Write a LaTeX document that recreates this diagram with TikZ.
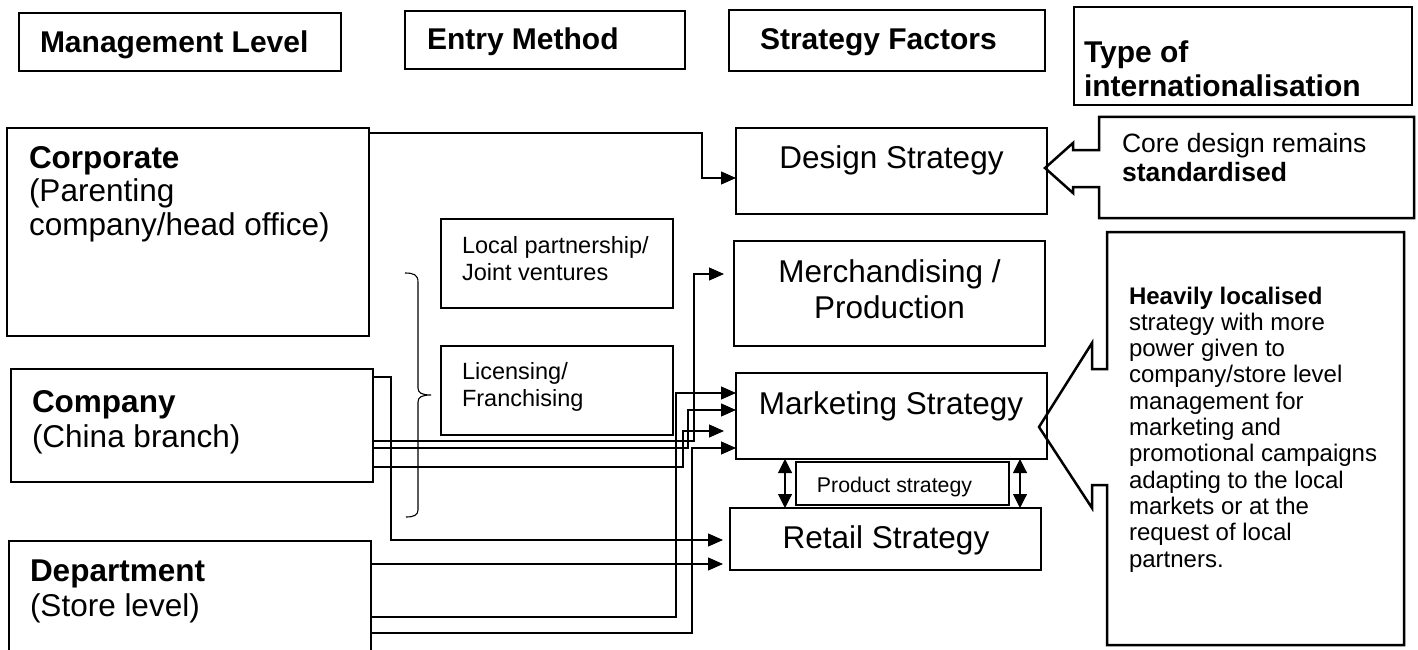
\documentclass[tikz,border=0pt]{standalone}
\usepackage{fontspec}
\setmainfont{Liberation Sans}
\usetikzlibrary{arrows.meta}
% stacked lines whose baseline is the baseline of the first line
\newcommand\stackL[1]{\begin{tabular}[t]{@{}l@{}}#1\end{tabular}}
\newcommand\stackC[1]{\begin{tabular}[t]{@{}c@{}}#1\end{tabular}}

\begin{document}
\begin{tikzpicture}[x=1pt,y=-1pt,
  box/.style={draw, line width=1.3pt, inner sep=0pt, outer sep=0pt, anchor=north west},
  txt/.style={inner sep=0pt, outer sep=0pt, anchor=base west},
  ctxt/.style={inner sep=0pt, outer sep=0pt, anchor=base},
  head/.style={txt, font=\fontsize{30}{34}\selectfont\bfseries},
  level/.style={txt, font=\fontsize{31.5}{35.5}\selectfont},
  factor/.style={ctxt, font=\fontsize{31.5}{36}\selectfont},
  entry/.style={txt, font=\fontsize{23.5}{27}\selectfont},
  link/.style={line width=1.1pt, -{Triangle[length=15pt,width=13pt]}},
  both/.style={line width=1.1pt, {Triangle[length=14pt,width=14pt]}-{Triangle[length=14pt,width=14pt]}},
  callout/.style={draw, line width=2.5pt, line join=miter},
]
\useasboundingbox (0,0) rectangle (1418,650);

% column headings
\node[box, minimum width=322pt, minimum height=58pt] (hml) at (19,13) {};
\node[box, minimum width=280pt, minimum height=58pt] (hem) at (405,11) {};
\node[box, minimum width=316pt, minimum height=61pt] (hsf) at (729,10) {};
\node[box, minimum width=338pt, minimum height=98pt] (hti) at (1074,7) {};
\node[head] (t-hml) at (40,53) {Management Level};
\node[head] (t-hem) at (427,50) {Entry Method};
\node[head] (t-hsf) at (760,50) {Strategy Factors};
\node[head] (t-hti) at (1084,63) {\stackL{Type of\\internationalisation}};

% management levels
\node[box, minimum width=362pt, minimum height=208pt] (corp) at (7,128) {};
\node[box, minimum width=362pt, minimum height=113pt] (comp) at (11,369) {};
\node[box, minimum width=362pt, minimum height=130pt] (dept) at (9,541) {};
\node[level, font=\fontsize{31.5}{33.5}\selectfont] (t-corp) at (29,168)
  {\stackL{\textbf{Corporate}\\(Parenting\\company/head office)}};
\node[level] (t-comp) at (32,412) {\stackL{\textbf{Company}\\(China branch)}};
\node[level] (t-dept) at (30,581) {\stackL{\textbf{Department}\\(Store level)}};

% entry methods
\node[box, minimum width=232pt, minimum height=89pt] (local) at (441,219) {};
\node[box, minimum width=232pt, minimum height=89pt] (lic) at (441,346) {};
\node[entry] (t-local) at (462,253) {\stackL{Local partnership/\\Joint ventures}};
\node[entry] (t-lic) at (462,379) {\stackL{Licensing/\\Franchising}};

% strategy factors
\node[box, minimum width=311pt, minimum height=86pt] (design) at (736,128) {};
\node[box, minimum width=311pt, minimum height=105pt] (merch) at (734,241) {};
\node[box, minimum width=311pt, minimum height=86pt] (mkt) at (736,373) {};
\node[box, minimum width=213pt, minimum height=43pt] (prod) at (796,462) {};
\node[box, minimum width=311pt, minimum height=62pt] (retail) at (730,508) {};
\node[factor] (t-design) at (891.5,168) {Design Strategy};
\node[factor] (t-merch) at (889.5,282) {\stackC{Merchandising /\\Production}};
\node[factor] (t-mkt) at (891,414) {Marketing Strategy};
\node[factor] (t-retail) at (886,548) {Retail Strategy};
\node[ctxt, font=\fontsize{21.3}{24}\selectfont] (t-prod) at (894.5,492) {Product strategy};

% brace grouping the entry methods
\draw[line width=1.1pt] (405,273) .. controls (414,273) and (418,275) .. (418,282)
  -- (418,388) .. controls (418,393) and (422,395) .. (431,395)
  .. controls (422,395) and (418,397) .. (418,402)
  -- (418,510) .. controls (418,515) and (414,517) .. (406,517);

% connectors
\draw[link] (corp.east |- 0,133) -- (702,133) -- (702,178) -- (design.west |- 0,178);
\draw[link, shorten >=7pt] (comp.east |- 0,377) -- (391,377) -- (391,540) -- (retail.west |- 0,540);
\draw[link, shorten >=10pt] (comp.east |- 0,441) -- (694,441) -- (694,274) -- (merch.west |- 0,274);
\draw[link] (comp.east |- 0,448) -- (688,448) -- (688,410) -- (mkt.west |- 0,410);
\draw[link, shorten >=12pt] (comp.east |- 0,467) -- (683,467) -- (683,431) -- (mkt.west |- 0,431);
\draw[link, shorten >=7pt] (dept.east |- 0,564) -- (retail.west |- 0,564);
\draw[link] (dept.east |- 0,617) -- (676,617) -- (676,393) -- (mkt.west |- 0,393);
\draw[link] (dept.east |- 0,633) -- (692,633) -- (692,448) -- (mkt.west |- 0,448);

% product strategy links marketing and retail
\draw[both] (785,0 |- mkt.south) -- (785,0 |- retail.north);
\draw[both] (1020,0 |- mkt.south) -- (1020,0 |- retail.north);

% callouts
\draw[callout] (1099,117) -- (1414,117) -- (1414,218) -- (1099,218) -- (1099,187)
  -- (1073,187) -- (1073,193) -- (1045,168) -- (1073,143) -- (1073,150) -- (1099,150) -- cycle;
\node[txt, font=\fontsize{26.5}{29}\selectfont] (t-core) at (1122,152)
  {\stackL{Core design remains\\\textbf{standardised}}};

\draw[callout] (1107,232) -- (1404,232) -- (1404,645) -- (1107,645) -- (1107,485)
  -- (1092,485) -- (1092,508) -- (1039,427) -- (1092,343) -- (1092,369) -- (1107,369) -- cycle;
\node[txt, font=\fontsize{24}{26.3}\selectfont] (t-heavy) at (1129,304)
  {\stackL{\textbf{Heavily localised}\\strategy with more\\power given to\\company/store level\\management for\\marketing and\\promotional campaigns\\adapting to the local\\markets or at the\\request of local\\partners.}};
\end{tikzpicture}
\end{document}
